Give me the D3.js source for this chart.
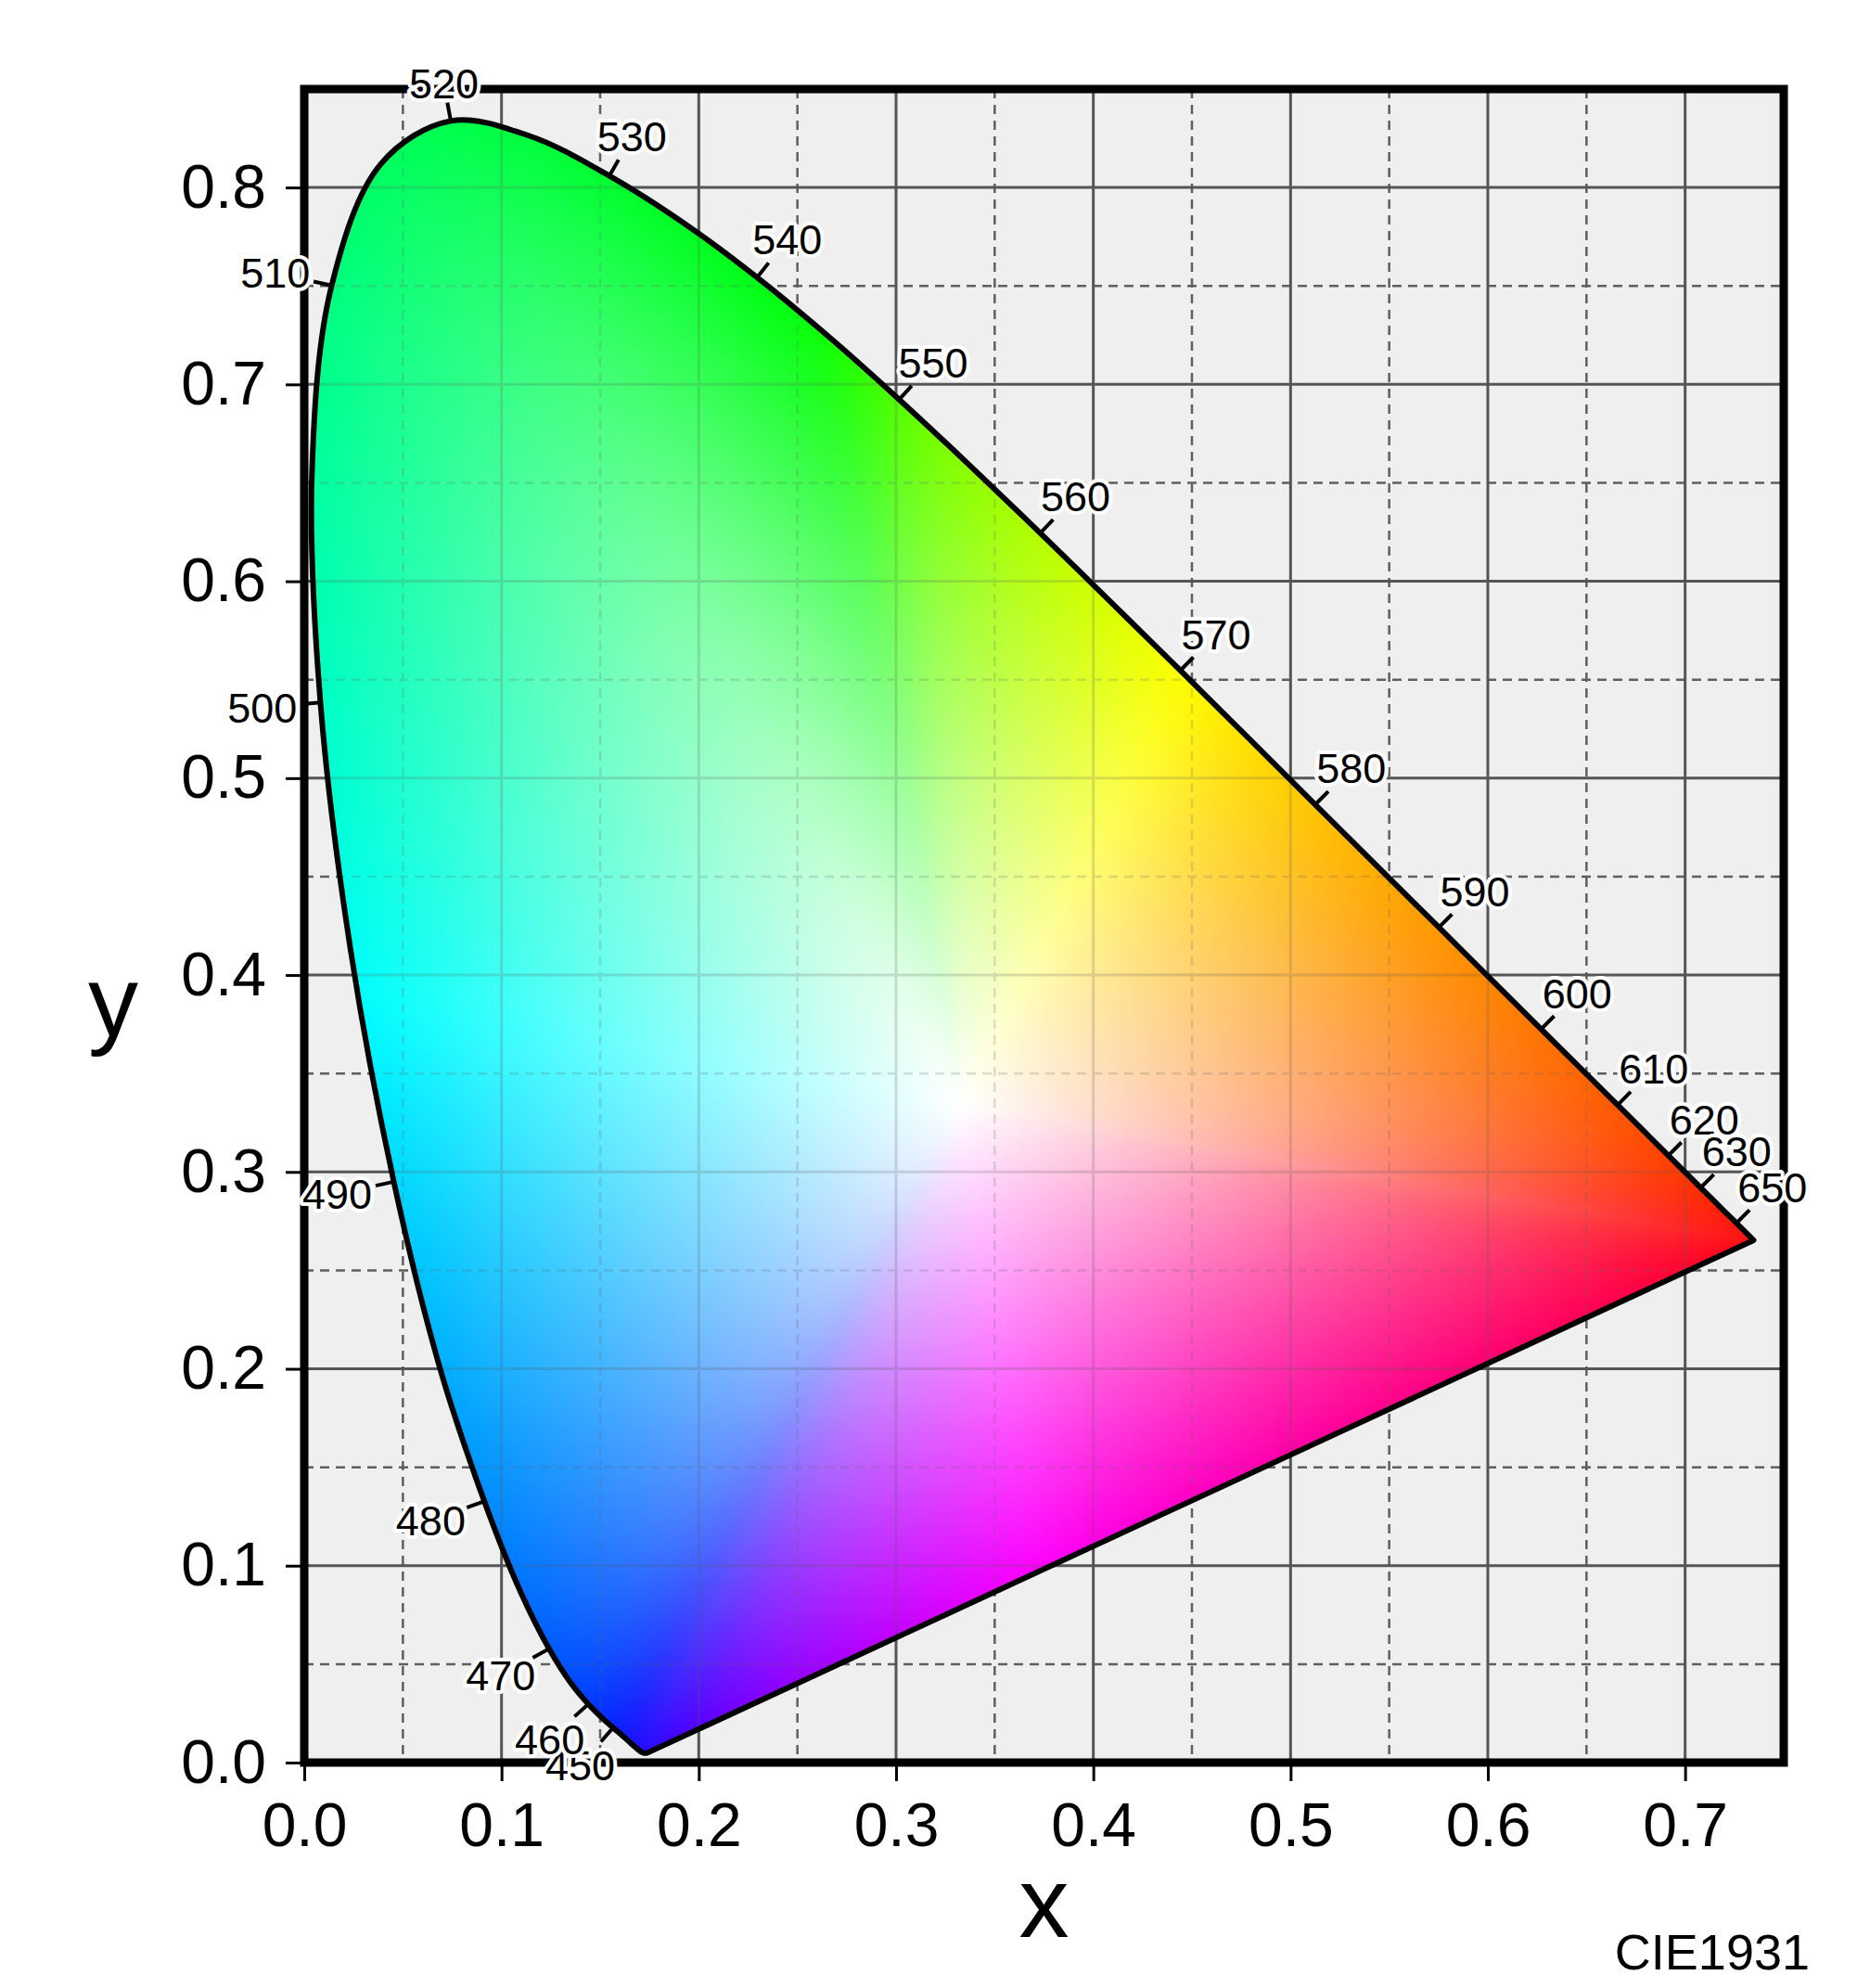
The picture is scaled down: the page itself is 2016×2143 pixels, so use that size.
<!DOCTYPE html>
<html>
<head>
<meta charset="utf-8">
<script src="https://cdn.jsdelivr.net/npm/d3@7"></script>
<style>
  html, body { margin: 0; padding: 0; background: #ffffff; }
  svg { display: block; }
  text { font-family: "Liberation Sans", Arial, sans-serif; }
</style>
</head>
<body>
<script>
// ---------------- DATA ----------------
const wavelengths = [380,385,390,395,400,405,410,415,420,425,430,435,440,445,450,455,460,465,470,475,480,485,490,495,500,505,510,515,520,525,530,535,540,545,550,555,560,565,570,575,580,585,590,595,600,605,610,615,620,625,630,635,640,645,650,655,660,665,670,675,680,685,690,695,700];
const locusX = [0.1741,0.1740,0.1738,0.1736,0.1733,0.1730,0.1726,0.1721,0.1714,0.1703,0.1689,0.1669,0.1644,0.1611,0.1566,0.1510,0.1440,0.1355,0.1241,0.1096,0.0913,0.0687,0.0454,0.0235,0.0082,0.0039,0.0139,0.0389,0.0743,0.1142,0.1547,0.1929,0.2296,0.2658,0.3016,0.3373,0.3731,0.4087,0.4441,0.4788,0.5125,0.5448,0.5752,0.6029,0.6270,0.6482,0.6658,0.6801,0.6915,0.7006,0.7079,0.7140,0.7190,0.7230,0.7260,0.7283,0.7300,0.7311,0.7320,0.7327,0.7334,0.7340,0.7344,0.7346,0.7347];
const locusY = [0.0050,0.0050,0.0049,0.0049,0.0048,0.0048,0.0048,0.0048,0.0051,0.0058,0.0069,0.0086,0.0109,0.0138,0.0177,0.0227,0.0297,0.0399,0.0578,0.0868,0.1327,0.2007,0.2950,0.4127,0.5384,0.6548,0.7502,0.8120,0.8338,0.8262,0.8059,0.7816,0.7543,0.7243,0.6923,0.6589,0.6245,0.5896,0.5547,0.5202,0.4866,0.4544,0.4242,0.3965,0.3725,0.3514,0.3340,0.3197,0.3083,0.2993,0.2920,0.2859,0.2809,0.2770,0.2740,0.2717,0.2700,0.2689,0.2680,0.2673,0.2666,0.2660,0.2656,0.2654,0.2653];
const labelWavelengths = [450,460,470,480,490,500,510,520,530,540,550,560,570,580,590,600,610,620,630,650];
const whitePoint = [1/3, 1/3];
const xTicks = [0.0,0.1,0.2,0.3,0.4,0.5,0.6,0.7];
const yTicks = [0.0,0.1,0.2,0.3,0.4,0.5,0.6,0.7,0.8];
const xMinorGrid = [0.05,0.15,0.25,0.35,0.45,0.55,0.65];
const yMinorGrid = [0.05,0.15,0.25,0.35,0.45,0.55,0.65,0.75];
const xMajorGrid = [0.1,0.2,0.3,0.4,0.5,0.6,0.7];
const yMajorGrid = [0.1,0.2,0.3,0.4,0.5,0.6,0.7,0.8];
const xTitle = "x", yTitle = "y", cornerNote = "CIE1931";

// ---------------- LAYOUT ----------------
const W = 2016, H = 2143;
const L = 328, R = 1923, T = 96, B = 1900;
const x = d3.scaleLinear().domain([0, 0.75]).range([L, R]);
const y = d3.scaleLinear().domain([0, 0.85]).range([B, T]);

const svg = d3.select("body").append("svg").attr("width", W).attr("height", H);
const defs = svg.append("defs");

const locus = wavelengths.map((w, i) => ({w, x: locusX[i], y: locusY[i]}));
const locusLine = d3.line().x(d => x(d.x)).y(d => y(d.y)).curve(d3.curveCatmullRom.alpha(0.5));
const locusPath = locusLine(locus) + "Z";

defs.append("clipPath").attr("id", "locusClip").append("path").attr("d", locusPath);

// background
svg.append("rect").attr("x", L).attr("y", T).attr("width", R - L).attr("height", B - T).attr("fill", "#efefef");

function drawGrid(g) {
  g.selectAll(".vmin").data(xMinorGrid).join("line")
    .attr("x1", d => x(d)).attr("x2", d => x(d)).attr("y1", T).attr("y2", B)
    .attr("stroke", "#5f5f5f").attr("stroke-width", 2.5).attr("stroke-dasharray", "10,7");
  g.selectAll(".hmin").data(yMinorGrid).join("line")
    .attr("y1", d => y(d)).attr("y2", d => y(d)).attr("x1", L).attr("x2", R)
    .attr("stroke", "#5f5f5f").attr("stroke-width", 2.5).attr("stroke-dasharray", "10,7");
  g.selectAll(".vmaj").data(xMajorGrid).join("line")
    .attr("x1", d => x(d)).attr("x2", d => x(d)).attr("y1", T).attr("y2", B)
    .attr("stroke", "#555555").attr("stroke-width", 3);
  g.selectAll(".hmaj").data(yMajorGrid).join("line")
    .attr("y1", d => y(d)).attr("y2", d => y(d)).attr("x1", L).attr("x2", R)
    .attr("stroke", "#555555").attr("stroke-width", 3);
}
drawGrid(svg.append("g"));

// --------------- colour fill ----------------
function gammaEnc(c) { return c <= 0.0031308 ? 12.92 * c : 1.055 * Math.pow(c, 1 / 2.4) - 0.055; }
// xy -> XYZ (Y=1) -> CIE RGB, clipped and normalised
function xyToRGB(cx, cy) {
  const X = cx / cy, Y = 1, Z = (1 - cx - cy) / cy;
  let r = 2.3646 * X - 0.8965 * Y - 0.4681 * Z;
  let g = -0.5152 * X + 1.4264 * Y + 0.0888 * Z;
  let b = 0.0052 * X - 0.0144 * Y + 1.0092 * Z;
  r = Math.max(r, 0); g = Math.max(g, 0); b = Math.max(b, 0);
  const m = Math.max(r, g, b) || 1;
  return [gammaEnc(r / m) * 255, gammaEnc(g / m) * 255, gammaEnc(b / m) * 255];
}
const poly = locus.map(d => [d.x, d.y]);
const N = 4096;
const lutR = new Float32Array(N), rawC = [];
const [wx, wy] = whitePoint;
for (let k = 0; k < N; k++) {
  const a = -Math.PI + (k / N) * 2 * Math.PI;
  const dx = Math.cos(a), dy = Math.sin(a);
  let best = Infinity, bp = null;
  for (let i = 0; i < poly.length; i++) {
    const p1 = poly[i], p2 = poly[(i + 1) % poly.length];
    const ex = p2[0] - p1[0], ey = p2[1] - p1[1];
    const den = dx * ey - dy * ex;
    if (Math.abs(den) < 1e-12) continue;
    const qx = p1[0] - wx, qy = p1[1] - wy;
    const s = (qx * ey - qy * ex) / den;
    const u = (qx * dy - qy * dx) / den;
    if (s > 0 && u >= -1e-9 && u <= 1 + 1e-9 && s < best) { best = s; bp = [wx + s * dx, wy + s * dy]; }
  }
  lutR[k] = best;
  rawC.push(xyToRGB(bp[0], Math.max(bp[1], 0.004)));
}
// angular smoothing of edge colours
const lutC = [];
const SW = 90, SIG = 30;
for (let k = 0; k < N; k++) {
  let s0 = 0, s1 = 0, s2 = 0, ws = 0;
  for (let d = -SW; d <= SW; d++) {
    const wgt = Math.exp(-d * d / (2 * SIG * SIG));
    const c = rawC[(k + d + N) % N];
    s0 += c[0] * wgt; s1 += c[1] * wgt; s2 += c[2] * wgt; ws += wgt;
  }
  lutC.push([s0 / ws, s1 / ws, s2 / ws]);
}
const cw = R - L, ch = B - T;
const canvas = document.createElement("canvas");
canvas.width = cw; canvas.height = ch;
const ctx = canvas.getContext("2d");
const img = ctx.createImageData(cw, ch);
const data = img.data;
for (let j = 0; j < ch; j++) {
  const yv = y.invert(T + j + 0.5);
  for (let i = 0; i < cw; i++) {
    const xv = x.invert(L + i + 0.5);
    const dx = xv - wx, dy = yv - wy;
    const a = Math.atan2(dy, dx);
    const f = (a + Math.PI) / (2 * Math.PI) * N;
    const k0 = Math.floor(f) % N, k1 = (k0 + 1) % N, fr = f - Math.floor(f);
    const Rb = lutR[k0] * (1 - fr) + lutR[k1] * fr;
    let t = Math.hypot(dx, dy) / Rb;
    if (t > 1.03) continue;
    t = Math.min(t, 1);
    const c0 = lutC[k0], c1 = lutC[k1];
    const o = (j * cw + i) * 4;
    for (let c = 0; c < 3; c++) {
      const ec = c0[c] * (1 - fr) + c1[c] * fr;
      data[o + c] = 255 * (1 - t) + ec * t;
    }
    data[o + 3] = 255;
  }
}
ctx.putImageData(img, 0, 0);
svg.append("image").attr("x", L).attr("y", T).attr("width", cw).attr("height", ch)
  .attr("href", canvas.toDataURL()).attr("clip-path", "url(#locusClip)");

// faint grid over the fill
const g2 = svg.append("g").attr("clip-path", "url(#locusClip)").attr("opacity", 0.2);
drawGrid(g2);

// locus outline
svg.append("path").attr("d", locusPath).attr("fill", "none").attr("stroke", "#000")
  .attr("stroke-width", 6).attr("stroke-linejoin", "round");

// frame
svg.append("rect").attr("x", L).attr("y", T).attr("width", R - L).attr("height", B - T)
  .attr("fill", "none").attr("stroke", "#000").attr("stroke-width", 9);

// axes
const xAxis = d3.axisBottom(x).tickValues(xTicks).tickFormat(d3.format(".1f")).tickSize(20).tickPadding(23);
const yAxis = d3.axisLeft(y).tickValues(yTicks).tickFormat(d3.format(".1f")).tickSize(20).tickPadding(21);
const gx = svg.append("g").attr("transform", `translate(0,${B})`).call(xAxis);
const gy = svg.append("g").attr("transform", `translate(${L},0)`).call(yAxis);
[gx, gy].forEach(g => {
  g.select(".domain").remove();
  g.selectAll(".tick line").attr("stroke", "#000").attr("stroke-width", 3);
  g.selectAll(".tick text").attr("font-size", 66).attr("fill", "#000")
    .attr("font-family", "'Liberation Sans', Arial, sans-serif");
});

// titles
svg.append("text").attr("x", (L + R) / 2).attr("y", 2088).attr("text-anchor", "middle")
  .attr("font-size", 108).text(xTitle);
svg.append("text").attr("x", 122).attr("y", 1117).attr("text-anchor", "middle")
  .attr("font-size", 108).text(yTitle);
svg.append("text").attr("x", 1951).attr("y", 2123).attr("text-anchor", "end")
  .attr("font-size", 54).text(cornerNote);

// wavelength ticks + labels
const labG = svg.append("g");
labelWavelengths.forEach(w => {
  const i = wavelengths.indexOf(w);
  const px = x(locusX[i]), py = y(locusY[i]);
  const ax = x(locusX[i - 1]), ay = y(locusY[i - 1]);
  const bx = x(locusX[i + 1]), by = y(locusY[i + 1]);
  let tx = bx - ax, ty = by - ay;
  const tl = Math.hypot(tx, ty); tx /= tl; ty /= tl;
  const nx = ty, ny = -tx;
  labG.append("line").attr("x1", px).attr("y1", py).attr("x2", px + nx * 20).attr("y2", py + ny * 20)
    .attr("stroke", "#000").attr("stroke-width", 4);
  const D = 36 + 27 * Math.abs(nx);
  labG.append("text").attr("font-size", 45).attr("text-anchor", "middle")
    .attr("fill", "#000").attr("stroke", "#fff").attr("stroke-width", 8)
    .attr("stroke-linejoin", "round").attr("paint-order", "stroke")
    .attr("x", px + nx * D).attr("y", py + ny * D).attr("dy", "0.36em").text(w);
});
</script>
</body>
</html>
